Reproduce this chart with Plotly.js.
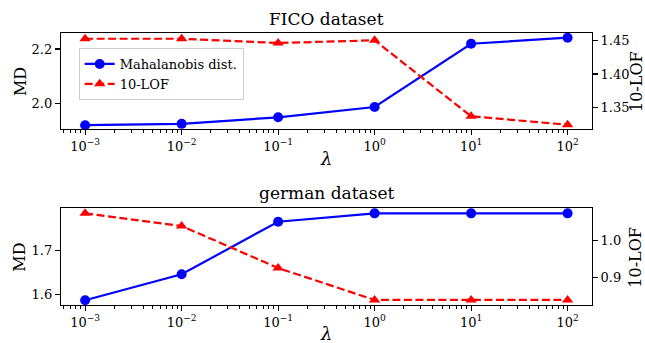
<!DOCTYPE html>
<html>
<head>
<meta charset="utf-8">
<script src="https://cdn.plot.ly/plotly-3.0.1.min.js"></script>
<style>html,body{margin:0;padding:0;background:#fff;}#chart{width:645px;height:343px;}</style>
</head>
<body>
<div id="chart"></div>
<script>
const lambdas = [0.001, 0.01, 0.1, 1, 10, 100];
const lambdaTickText = ["10<sup>−3</sup>", "10<sup>−2</sup>", "10<sup>−1</sup>", "10<sup>0</sup>", "10<sup>1</sup>", "10<sup>2</sup>"];
const ficoMD = [1.919, 1.924, 1.948, 1.986, 2.2195, 2.2416];
const ficoLOF = [1.453, 1.453, 1.4466, 1.4506, 1.3365, 1.3237];
const germanMD = [1.5864, 1.6455, 1.765, 1.784, 1.784, 1.784];
const germanLOF = [1.074, 1.0397, 0.926, 0.8397, 0.8397, 0.8397];
const seriesNames = ["Mahalanobis dist.", "10-LOF"];
const titles = ["FICO dataset", "german dataset"];

const FONT = "DejaVu Serif";
const BLUE = "#0000ff", RED = "#ff0000";

// standard log-axis minor tick positions (2..9 in each decade)
const minorTicks = [];
for (let e = -4; e <= 2; e++) for (let m = 2; m <= 9; m++) minorTicks.push(m * Math.pow(10, e));

function mdTrace(y, xa, ya, show) {
  return {x: lambdas, y: y, xaxis: xa, yaxis: ya, name: seriesNames[0], showlegend: show,
    mode: "lines+markers", cliponaxis: false,
    line: {color: BLUE, width: 2.2}, marker: {color: BLUE, size: 10, symbol: "circle"}};
}
function lofTrace(y, xa, ya, show) {
  return {x: lambdas, y: y, xaxis: xa, yaxis: ya, name: seriesNames[1], showlegend: show,
    mode: "lines+markers", cliponaxis: false,
    line: {color: RED, width: 2.2, dash: "8px,3.5px"}, marker: {color: RED, size: 10, symbol: "triangle-up"}};
}

const data = [
  mdTrace(ficoMD, "x", "y", true),
  lofTrace(ficoLOF, "x", "y2", true),
  mdTrace(germanMD, "x2", "y3", false),
  lofTrace(germanLOF, "x2", "y4", false)
];

const tickfont = {family: FONT, size: 13, color: "#000"};
const XDOM = [0.0946, 0.9174], XRANGE = [-3.25, 2.25];
function xax(anchor) {
  return {type: "log", domain: XDOM, range: XRANGE, autorange: false, anchor: anchor,
    tickmode: "array", tickvals: lambdas, ticktext: lambdaTickText,
    showline: true, mirror: true, linecolor: "#000", linewidth: 1.2,
    ticks: "outside", ticklen: 5, tickwidth: 1.1, tickcolor: "#000", showgrid: false, zeroline: false,
    tickfont: tickfont,
    minor: {ticks: "outside", ticklen: 3, tickwidth: 1, tickcolor: "#000", tickmode: "array", tickvals: minorTicks, showgrid: false}};
}
function yax(domain, range, dtick, fmt, extra) {
  return Object.assign({domain: domain, range: range, autorange: false, dtick: dtick, tick0: 0, tickformat: fmt,
    showline: true, linecolor: "#000", linewidth: 1.2, ticks: "outside", ticklen: 5, tickwidth: 1.1,
    tickcolor: "#000", showgrid: false, zeroline: false, tickfont: tickfont}, extra || {});
}

const dTop = [0.6239, 0.9038], dBot = [0.1108, 0.3927];

function ann(text, x, y, size, angle) {
  return {text: text, x: x, y: y, xref: "paper", yref: "paper", showarrow: false,
    xanchor: "center", yanchor: "middle", textangle: angle || 0,
    font: {family: FONT, size: size, color: "#000"}};
}

const layout = {
  width: 645, height: 343,
  margin: {l: 0, r: 0, t: 0, b: 0},
  paper_bgcolor: "#fff", plot_bgcolor: "#fff",
  font: {family: FONT, color: "#000"},
  xaxis: xax("y"),
  xaxis2: xax("y3"),
  yaxis: yax(dTop, [1.905, 2.259], 0.2, ".1f"),
  yaxis2: yax(dTop, [1.3174, 1.4616], 0.05, ".2f", {overlaying: "y", side: "right", anchor: "x"}),
  yaxis3: yax(dBot, [1.5757, 1.7955], 0.1, ".1f", {anchor: "x2"}),
  yaxis4: yax(dBot, [0.826, 1.0876], 0.1, ".1f", {overlaying: "y3", side: "right", anchor: "x2"}),
  showlegend: true,
  legend: {x: 0.122, y: 0.86, xanchor: "left", yanchor: "top",
    bgcolor: "rgba(255,255,255,0.8)", bordercolor: "#cccccc", borderwidth: 1,
    font: {family: FONT, size: 13, color: "#000"}, itemwidth: 30},
  annotations: [
    ann(titles[0], 0.506, 0.9446, 17),
    ann(titles[1], 0.506, 0.437, 17),
    ann("MD", 0.031, 0.7638, 16, -90),
    ann("MD", 0.031, 0.2516, 16, -90),
    ann("10-LOF", 0.986, 0.7638, 16, -90),
    ann("10-LOF", 0.986, 0.2516, 16, -90),
    ann("<i>λ</i>", 0.506, 0.5385, 18),
    ann("<i>λ</i>", 0.506, 0.0283, 18)
  ]
};

Plotly.newPlot("chart", data, layout, {staticPlot: true, displayModeBar: false});
</script>
</body>
</html>
